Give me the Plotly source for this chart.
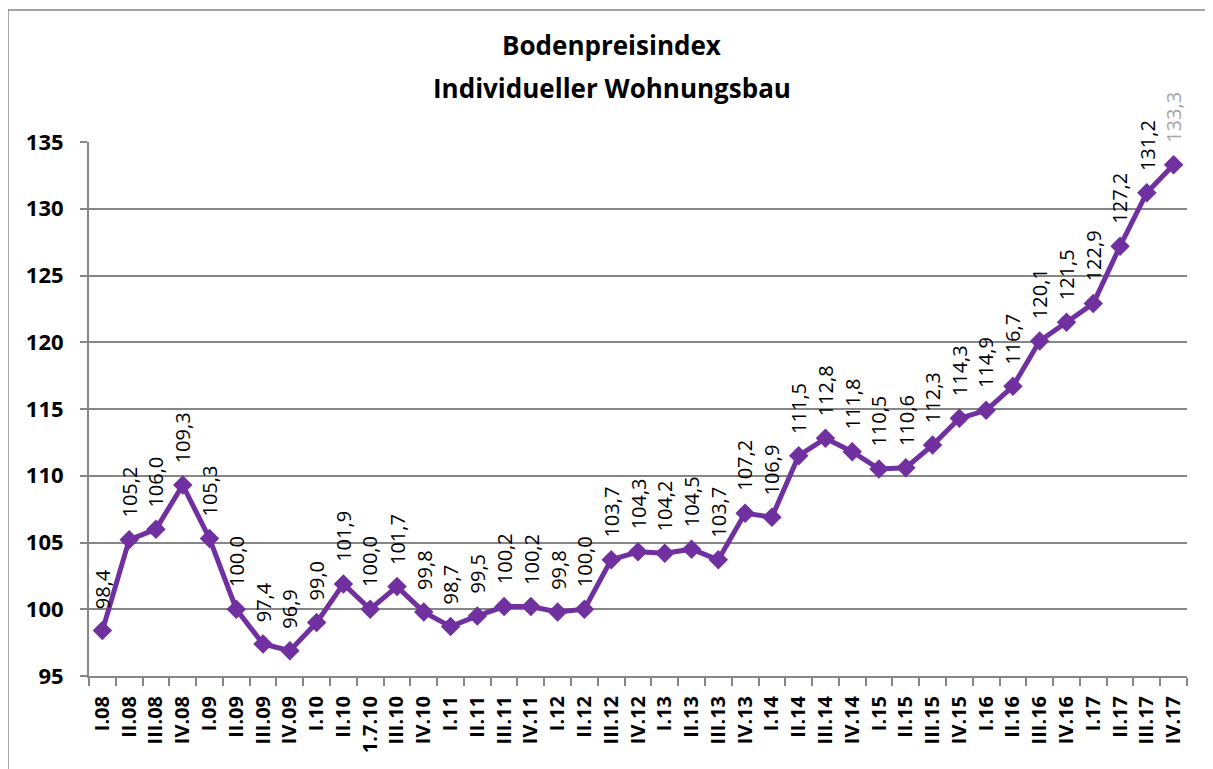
import plotly.graph_objects as go

categories = ["I.08", "II.08", "III.08", "IV.08", "I.09", "II.09", "III.09", "IV.09",
              "I.10", "II.10", "1.7.10", "III.10", "IV.10", "I.11", "II.11", "III.11", "IV.11",
              "I.12", "II.12", "III.12", "IV.12", "I.13", "II.13", "III.13", "IV.13",
              "I.14", "II.14", "III.14", "IV.14", "I.15", "II.15", "III.15", "IV.15",
              "I.16", "II.16", "III.16", "IV.16", "I.17", "II.17", "III.17", "IV.17"]
values = [98.4, 105.2, 106.0, 109.3, 105.3, 100.0, 97.4, 96.9,
          99.0, 101.9, 100.0, 101.7, 99.8, 98.7, 99.5, 100.2, 100.2,
          99.8, 100.0, 103.7, 104.3, 104.2, 104.5, 103.7, 107.2,
          106.9, 111.5, 112.8, 111.8, 110.5, 110.6, 112.3, 114.3,
          114.9, 116.7, 120.1, 121.5, 122.9, 127.2, 131.2, 133.3]
y_ticks = [95, 100, 105, 110, 115, 120, 125, 130, 135]

purple = "#7030A0"
grid_col = "#868686"
font_family = "Open Sans, Noto Sans, sans-serif"
label_size = 20

fig = go.Figure()
fig.add_trace(go.Scatter(
    x=categories, y=values, mode="lines+markers",
    line=dict(color=purple, width=5),
    marker=dict(symbol="diamond", size=15, color=purple),
    hoverinfo="x+y", showlegend=False,
))


def text_len(s, size):
    # approximate rendered length of a numeric label (Open Sans)
    w = 0.0
    for ch in s:
        w += 0.26 if ch == "," else 0.572
    return w * size


for i, (c, v) in enumerate(zip(categories, values)):
    col = "#A6A6A6" if i == len(values) - 1 else "#000000"
    txt = f"{v:.1f}".replace(".", ",")
    fig.add_annotation(
        x=c, y=v, text=txt, textangle=-90,
        showarrow=False, xanchor="center", yanchor="middle",
        yshift=22 + text_len(txt, label_size) / 2,
        font=dict(family=font_family, size=label_size, color=col),
    )

fig.add_annotation(xref="paper", yref="paper", x=0.4759, y=1.1816,
                   text="<b>Bodenpreisindex</b>", showarrow=False,
                   xanchor="center", yanchor="middle",
                   font=dict(family=font_family, size=26, color="#000000"))
fig.add_annotation(xref="paper", yref="paper", x=0.4759, y=1.1011,
                   text="<b>Individueller Wohnungsbau</b>", showarrow=False,
                   xanchor="center", yanchor="middle",
                   font=dict(family=font_family, size=26, color="#000000"))

fig.update_layout(
    width=1205, height=761,
    margin=dict(l=81, r=26, t=134, b=93, autoexpand=False),
    paper_bgcolor="white", plot_bgcolor="white",
    xaxis=dict(type="category", range=[-0.5, 40.5], tickangle=-90,
               showline=True, linecolor=grid_col, linewidth=2,
               ticks="outside", ticklen=8, tickcolor=grid_col, tickwidth=1.5,
               showgrid=False, tickson="boundaries", ticklabelstandoff=10,
               tickfont=dict(family=font_family, size=20, color="#000000", weight="bold")),
    yaxis=dict(range=[95, 135], tickvals=y_ticks, showgrid=True,
               gridcolor=grid_col, gridwidth=2, zeroline=False,
               showline=True, linecolor=grid_col, linewidth=2,
               ticks="outside", ticklen=7, tickcolor=grid_col, tickwidth=1.5,
               ticklabelstandoff=12,
               tickfont=dict(family=font_family, size=22, color="#000000", weight="bold")),
    shapes=[
        dict(type="line", xref="paper", yref="paper", x0=-0.0738, x1=-0.0738, y0=-0.3, y1=1.247,
             line=dict(color=grid_col, width=1.5)),
        dict(type="line", xref="paper", yref="paper", x0=-0.0738, x1=1.1, y0=1.247, y1=1.247,
             line=dict(color=grid_col, width=1.5)),
    ],
)

fig.write_html("out.html")
